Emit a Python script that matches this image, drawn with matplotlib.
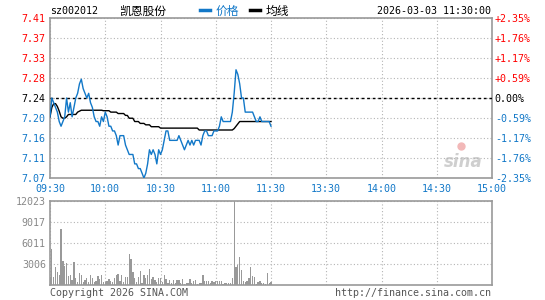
import matplotlib
matplotlib.use('Agg')
import matplotlib.pyplot as plt
import numpy as np

# --- data ---
prev_close = 7.24
price_ticks = [7.07, 7.11, 7.16, 7.20, 7.24, 7.28, 7.33, 7.37, 7.41]
pct_labels = ['-2.35%', '-1.76%', '-1.17%', '-0.59%', '0.00%', '+0.59%', '+1.17%', '+1.76%', '+2.35%']
time_labels = ['09:30', '10:00', '10:30', '11:00', '11:30', '13:30', '14:00', '14:30', '15:00']
vol_ticks = [3006, 6011, 9017, 12023]
vol_max = 12023

price = [7.20, 7.24, 7.23, 7.22, 7.21, 7.19, 7.18, 7.19, 7.20, 7.24,
         7.21, 7.23, 7.20, 7.22, 7.24, 7.25, 7.27, 7.28, 7.26, 7.25,
         7.24, 7.25, 7.23, 7.22, 7.20, 7.19, 7.19, 7.18, 7.20, 7.19,
         7.21, 7.20, 7.18, 7.18, 7.17, 7.17, 7.16, 7.14, 7.16, 7.16,
         7.16, 7.14, 7.13, 7.12, 7.12, 7.12, 7.10, 7.10, 7.09, 7.09,
         7.08, 7.07, 7.08, 7.10, 7.13, 7.12, 7.13, 7.12, 7.10, 7.13,
         7.12, 7.13, 7.15, 7.17, 7.17, 7.15, 7.15, 7.15, 7.15, 7.15,
         7.16, 7.15, 7.14, 7.13, 7.14, 7.15, 7.14, 7.15, 7.14, 7.15,
         7.15, 7.15, 7.14, 7.16, 7.17, 7.17, 7.16, 7.16, 7.16, 7.17,
         7.17, 7.17, 7.18, 7.20, 7.19, 7.19, 7.19, 7.19, 7.19, 7.21,
         7.25, 7.30, 7.29, 7.27, 7.24, 7.24, 7.21, 7.21, 7.21, 7.21,
         7.21, 7.20, 7.19, 7.19, 7.20, 7.19, 7.19, 7.19, 7.19, 7.19,
         7.18]

avg = [7.200, 7.220, 7.228, 7.228, 7.222, 7.212, 7.200, 7.197, 7.197, 7.200,
       7.205, 7.205, 7.205, 7.205, 7.205, 7.210, 7.212, 7.214, 7.214, 7.214,
       7.214, 7.214, 7.214, 7.214, 7.214, 7.214, 7.214, 7.214, 7.214, 7.213,
       7.213, 7.213, 7.213, 7.210, 7.210, 7.210, 7.210, 7.207, 7.207, 7.207,
       7.207, 7.203, 7.203, 7.197, 7.197, 7.197, 7.190, 7.190, 7.190, 7.186,
       7.186, 7.186, 7.183, 7.183, 7.183, 7.179, 7.179, 7.179, 7.179, 7.179,
       7.176, 7.176, 7.176, 7.176, 7.176, 7.176, 7.176, 7.176, 7.176, 7.176,
       7.176, 7.176, 7.176, 7.176, 7.176, 7.176, 7.176, 7.176, 7.176, 7.176,
       7.176, 7.172, 7.172, 7.172, 7.172, 7.172, 7.172, 7.172, 7.172, 7.172,
       7.172, 7.172, 7.172, 7.172, 7.172, 7.172, 7.172, 7.172, 7.172, 7.172,
       7.175, 7.180, 7.185, 7.190, 7.190, 7.190, 7.190, 7.190, 7.190, 7.190,
       7.190, 7.190, 7.190, 7.190, 7.190, 7.190, 7.190, 7.190, 7.190, 7.190,
       7.190]

volume = [1200, 5150, 1200, 2600, 1800, 1400, 8000, 3400, 2700, 3100,
          1300, 1500, 700, 3300, 1000, 400, 1700, 1400, 400, 700,
          1000, 400, 1400, 1000, 400, 600, 1300, 900, 1400, 500,
          500, 600, 900, 600, 500, 1000, 1400, 1600, 600, 1400,
          400, 1200, 1100, 4500, 3700, 1800, 1000, 400, 1200, 2000,
          250, 1400, 1050, 1500, 2300, 850, 1150, 700, 400, 1000,
          1000, 400, 1500, 850, 250, 700, 250, 700, 250, 700,
          700, 300, 850, 200, 250, 250, 850, 250, 550, 700,
          200, 250, 300, 1500, 550, 550, 550, 300, 550, 400,
          550, 550, 550, 550, 200, 300, 300, 300, 300, 1050,
          12023, 2600, 2850, 4000, 2100, 550, 400, 550, 950, 2600,
          1300, 1150, 200, 400, 550, 300, 300, 200, 1700, 300,
          400]

BLUE = '#1278c8'
RED = '#ff0000'
GRAY = '#999999'
GRID = '#b4b4b4'
MONO = 'DejaVu Sans Mono'
FS = 7.2

W, H = 545, 300


def px_axes(fig, x0, y0, x1, y1):
    # pixel box (top-left origin) -> figure axes
    return fig.add_axes([x0 / W, 1 - y1 / H, (x1 - x0) / W, (y1 - y0) / H])


def style_frame(ax):
    for s in ax.spines.values():
        s.set_color(GRAY)
        s.set_linewidth(1.2)
    ax.grid(True, color=GRID, linestyle=(0, (1, 2)), linewidth=0.8)
    ax.tick_params(length=0)


fig = plt.figure(figsize=(W / 100, H / 100), dpi=100)
fig.patch.set_facecolor('white')

n_total = 240
x_grid = np.arange(0, n_total + 1, 30)
x = np.arange(len(price))

# --- price panel ---
ax = px_axes(fig, 50, 18, 492, 178)
lo, hi = price_ticks[0], price_ticks[-1]
ypos = np.linspace(lo, hi, len(price_ticks))
ax.set_xlim(0, n_total)
ax.set_ylim(lo, hi)
ax.set_xticks(x_grid)
ax.set_xticklabels(time_labels, fontfamily=MONO, fontsize=FS, color=BLUE)
ax.set_yticks(ypos)
ax.set_yticklabels(['%.2f' % v for v in price_ticks], fontfamily=MONO, fontsize=FS)
ax.tick_params(axis='x', pad=4)
ax.tick_params(axis='y', pad=3)
style_frame(ax)

for lab, v in zip(ax.get_yticklabels(), price_ticks):
    lab.set_color(RED if v > prev_close else ('black' if v == prev_close else BLUE))

ax.axhline(prev_close, color='black', linestyle=(0, (2, 2)), linewidth=1.0, zorder=3)
ax.plot(x, avg, color='black', linewidth=1.0, zorder=4)
ax.plot(x, price, color=BLUE, linewidth=1.0, zorder=5)

ax2 = ax.twinx()
ax2.set_ylim(lo, hi)
ax2.set_yticks(ypos)
ax2.set_yticklabels(pct_labels, fontfamily=MONO, fontsize=FS)
ax2.tick_params(length=0, pad=2)
for s in ax2.spines.values():
    s.set_visible(False)
for lab, t in zip(ax2.get_yticklabels(), pct_labels):
    lab.set_color(RED if t.startswith('+') else (BLUE if t.startswith('-') else 'black'))

# sina watermark
ax.text(0.935, 0.1, 'sina', transform=ax.transAxes, ha='center', va='center',
        fontsize=12, fontstyle='italic', fontweight='bold', color='#cfcfcf', zorder=1)
ax.plot([0.93], [0.2], 'o', transform=ax.transAxes, color='#f2b8b8', markersize=5, zorder=1)

# --- volume panel ---
axv = px_axes(fig, 50, 201, 492, 285)
axv.set_xlim(0, n_total)
axv.set_ylim(0, vol_max)
axv.set_xticks(x_grid)
axv.set_xticklabels([])
axv.set_yticks(vol_ticks)
axv.set_yticklabels([str(v) for v in vol_ticks], fontfamily=MONO, fontsize=FS, color='#888888')
axv.tick_params(axis='y', pad=3)
style_frame(axv)
axv.bar(x, volume, width=0.7, color=GRAY, zorder=3)

# --- header / footer texts ---
fig.text(50 / W, 1 - 11 / H, 'sz002012', fontfamily=MONO, fontsize=FS, va='center')
fig.text(119 / W, 1 - 11 / H, '凯恩股份', family=['Noto Sans CJK SC', 'DejaVu Sans'],
         fontsize=8.5, va='center')
fig.add_artist(plt.Line2D([200 / W, 210 / W], [1 - 10 / H, 1 - 10 / H], color=BLUE, linewidth=2.5))
fig.text(216 / W, 1 - 11 / H, '价格', family=['Noto Sans CJK SC', 'DejaVu Sans'],
         fontsize=8.5, va='center', color=BLUE)
fig.add_artist(plt.Line2D([250 / W, 260 / W], [1 - 10 / H, 1 - 10 / H], color='black', linewidth=2.5))
fig.text(266 / W, 1 - 11 / H, '均线', family=['Noto Sans CJK SC', 'DejaVu Sans'],
         fontsize=8.5, va='center')
fig.text(491 / W, 1 - 11 / H, '2026-03-03 11:30:00', fontfamily=MONO, fontsize=FS,
         va='center', ha='right')
fig.text(50 / W, 1 - 293 / H, 'Copyright 2026 SINA.COM', fontfamily=MONO, fontsize=FS,
         va='center', color='#555555')
fig.text(491 / W, 1 - 293 / H, 'http://finance.sina.com.cn', fontfamily=MONO, fontsize=FS,
         va='center', ha='right', color='#555555')

fig.savefig('out.png', dpi=100)
